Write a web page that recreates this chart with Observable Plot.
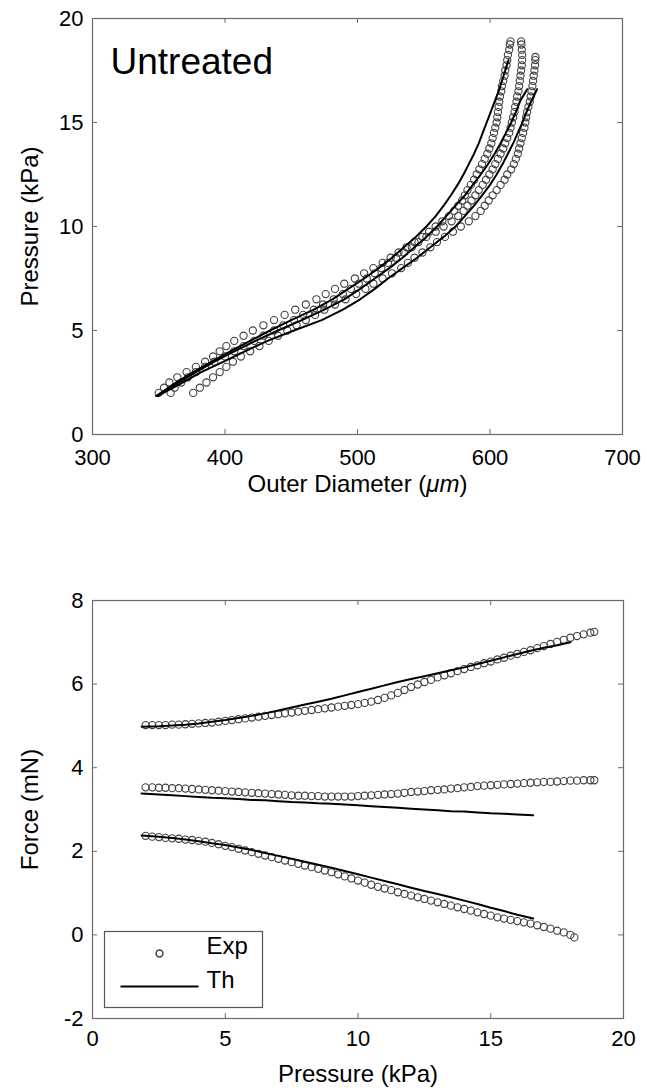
<!DOCTYPE html>
<html><head><meta charset="utf-8">
<script src="https://cdn.jsdelivr.net/npm/d3@7"></script>
<script src="https://cdn.jsdelivr.net/npm/@observablehq/plot@0.6"></script>
<style>
html,body{margin:0;padding:0;background:#fff;}
#chart{width:647px;height:1090px;}
svg{display:block;}
</style></head><body><div id="chart"></div>
<script>
// ---------- Experimental data (pressure kPa, outer diameter um, force mN) ----------
const pressureA = [2,2.25,2.5,2.75,3,3.25,3.5,3.75,4,4.25,4.5,4.75,5,5.25,5.5,5.75,6,6.25,6.5,6.75,7,7.25,7.5,7.75,8,8.25,8.5,8.75,9,9.25,9.5,9.75,10,10.25,10.5,10.75,11,11.25,11.5,11.75,12,12.25,12.5,12.75,13,13.25,13.5,13.75,14,14.25,14.5,14.75,15,15.25,15.5,15.75,16,16.25,16.5,16.75,17,17.25,17.5,17.75,18,18.25,18.5,18.75,18.9];
const diameterA = [350,354,358,364,371,378,385,391,396,401,407,414,421,429,437,445,453,461,469,476,483,490,498,505,512,519,525,531,537,543,549,554,559,564,569,573,576,579,581,583,585.5,588,590,592,594,596,598,599.5,601,602,603,604,605,605.5,606,606.5,607,607.5,608.5,609,610,611,611.5,612.5,613,613.5,614.5,615,615.5];
const forceA = [5.02,5.02,5.02,5.02,5.03,5.03,5.04,5.05,5.06,5.07,5.08,5.10,5.12,5.14,5.16,5.18,5.20,5.22,5.24,5.26,5.28,5.30,5.32,5.34,5.36,5.38,5.40,5.42,5.44,5.46,5.48,5.50,5.52,5.55,5.58,5.62,5.67,5.73,5.79,5.86,5.93,5.99,6.05,6.10,6.16,6.21,6.26,6.31,6.36,6.41,6.45,6.50,6.54,6.59,6.63,6.68,6.72,6.77,6.81,6.86,6.91,6.96,7.01,7.06,7.11,7.15,7.19,7.23,7.25];

const pressureB = [2,2.25,2.5,2.75,3,3.25,3.5,3.75,4,4.25,4.5,4.75,5,5.25,5.5,5.75,6,6.25,6.5,6.75,7,7.25,7.5,7.75,8,8.25,8.5,8.75,9,9.25,9.5,9.75,10,10.25,10.5,10.75,11,11.25,11.5,11.75,12,12.25,12.5,12.75,13,13.25,13.5,13.75,14,14.25,14.5,14.75,15,15.25,15.5,15.75,16,16.25,16.5,16.75,17,17.25,17.5,17.75,18,18.25,18.5,18.75,18.9];
const diameterB = [359,362,367,372,378,385,392,400,407,414,422,429,437,444,452,459,467,474,482,489,495,501,507,513,518,523,529,535,541,546,552,559,565,571,576,580,583,586,589,591.5,594.5,597,599.5,602,604,606,608,610,611.5,613,614.5,615.5,616.5,617.5,618.5,619,620,620.5,621.5,622,622.5,623,623.5,624,624.3,624.3,624,623.7,623.5];
const forceB = [3.53,3.53,3.52,3.52,3.51,3.51,3.50,3.49,3.48,3.47,3.46,3.45,3.44,3.43,3.42,3.41,3.40,3.39,3.38,3.37,3.36,3.35,3.34,3.33,3.33,3.32,3.32,3.31,3.31,3.31,3.31,3.31,3.32,3.33,3.34,3.35,3.36,3.37,3.38,3.40,3.42,3.43,3.44,3.46,3.47,3.48,3.50,3.51,3.53,3.54,3.56,3.57,3.58,3.59,3.60,3.61,3.62,3.63,3.64,3.65,3.66,3.66,3.67,3.68,3.69,3.69,3.70,3.70,3.70];

const pressureC = [2,2.25,2.5,2.75,3,3.25,3.5,3.75,4,4.25,4.5,4.75,5,5.25,5.5,5.75,6,6.25,6.5,6.75,7,7.25,7.5,7.75,8,8.25,8.5,8.75,9,9.25,9.5,9.75,10,10.25,10.5,10.75,11,11.25,11.5,11.75,12,12.25,12.5,12.75,13,13.25,13.5,13.75,14,14.25,14.5,14.75,15,15.25,15.5,15.75,16,16.25,16.5,16.75,17,17.25,17.5,17.75,18,18.15];
const diameterC = [376,381,386,391,396,401,406,412,419,426,433,440,447,454,461,468,475,483,491,499,506,512,519,526,533,538,543,549,555,560,566,572,578,584,589,593,596,599,602,605,608,611,613,616,618,619.5,621,622,623,624,625,626,626.7,627.3,628,629,630,630.7,631.3,632,632.5,633,633.5,634,634.2,634.3];
const forceC = [2.37,2.35,2.34,2.32,2.31,2.30,2.28,2.27,2.25,2.23,2.20,2.17,2.13,2.10,2.06,2.02,1.98,1.94,1.90,1.86,1.82,1.78,1.74,1.70,1.66,1.62,1.58,1.54,1.50,1.45,1.40,1.35,1.30,1.25,1.20,1.15,1.11,1.07,1.02,0.98,0.94,0.90,0.86,0.82,0.78,0.74,0.70,0.66,0.62,0.58,0.54,0.50,0.46,0.42,0.39,0.36,0.33,0.30,0.27,0.23,0.19,0.15,0.10,0.06,0.00,-0.06];

// ---------- Theoretical curves ----------
const thPressure1 = [1.85,2.5,3,3.5,4,4.5,5,5.5,6,6.5,7,7.5,8,8.5,9,9.5,10,10.5,11,11.5,12,12.5,13,13.5,14,14.5,15,15.5,16,16.5,17,17.5,18];
const thDiameter1 = [348,363,376,390,404,419,434,450,467,481,493,505,516,526,535,544,552,559,565,570.5,575.5,580,584,588,591.5,594.5,597.5,600.5,603.5,606.5,609,611.5,614];
const thForce1 = [4.98,4.99,5.01,5.03,5.06,5.10,5.14,5.19,5.24,5.30,5.37,5.44,5.51,5.58,5.65,5.73,5.81,5.89,5.97,6.05,6.12,6.19,6.26,6.33,6.40,6.48,6.56,6.64,6.72,6.80,6.87,6.93,7.0];

const thPressure2 = [1.85,2.5,3,3.5,4,4.5,5,5.5,6,6.5,7,7.5,8,8.5,9,9.5,10,10.5,11,11.5,12,12.5,13,13.5,14,14.5,15,15.5,16,16.6];
const thDiameter2 = [349,365,378,392,407,423,440,458,475,490,502,513,524,534,543,552,560,567,574,581,587,593,598.5,603.5,608,612,616,619.5,622.5,628];
const thForce2 = [3.38,3.36,3.34,3.32,3.30,3.28,3.27,3.25,3.23,3.22,3.20,3.18,3.17,3.15,3.14,3.12,3.10,3.08,3.06,3.04,3.02,3.00,2.98,2.96,2.95,2.93,2.91,2.90,2.88,2.86];

const thPressure3 = [1.85,2.5,3,3.5,4,4.5,5,5.5,6,6.5,7,7.5,8,8.5,9,9.5,10,10.5,11,11.5,12,12.5,13,13.5,14,14.5,15,15.5,16,16.6];
const thDiameter3 = [349,368,382,399,415,432,452,473,489,502,513,523,534,545,555,565,574,581,588,594,600,605,609.5,613.5,617.5,621,624.5,627.5,631,635.5];
const thForce3 = [2.38,2.35,2.32,2.28,2.24,2.19,2.15,2.09,2.03,1.96,1.89,1.82,1.75,1.68,1.61,1.53,1.45,1.37,1.29,1.21,1.13,1.05,0.98,0.90,0.82,0.74,0.65,0.57,0.48,0.39];

// ---------- Tick values & labels ----------
const diameterTicks = [300,400,500,600,700];
const pressureTicksTop = [0,5,10,15,20];
const pressureTicksBottom = [0,5,10,15,20];
const forceTicks = [-2,0,2,4,6,8];
const topLabelX = "Outer Diameter (μm)";
const topLabelY = "Pressure (kPa)";
const bottomLabelX = "Pressure (kPa)";
const bottomLabelY = "Force (mN)";
const panelTitle = "Untreated";
const legendLabels = ["Exp", "Th"];

// ---------- Build tables ----------
const table = (P, D, F) => P.map((p, i) => ({p, d: D[i], f: F[i]}));
const exps = [table(pressureA, diameterA, forceA), table(pressureB, diameterB, forceB), table(pressureC, diameterC, forceC)];
const ths = [table(thPressure1, thDiameter1, thForce1), table(thPressure2, thDiameter2, thForce2), table(thPressure3, thDiameter3, thForce3)];

const FONT = "'Liberation Sans', Arial, Helvetica, sans-serif";
const FRAME = "#6a6a6a";
const DOT = "#404040";
const tickFmt = d => String(d);
const TICKFS = 22, TITLEFS = 24;

function boxTicks(xTicks, yTicks, fw, fh, len) {
  return [
    Plot.tickX(xTicks, {x: d => d, insetTop: fh - len, stroke: FRAME}),
    Plot.tickX(xTicks, {x: d => d, insetBottom: fh - len, stroke: FRAME}),
    Plot.tickY(yTicks, {y: d => d, insetRight: fw - len, stroke: FRAME}),
    Plot.tickY(yTicks, {y: d => d, insetLeft: fw - len, stroke: FRAME})
  ];
}

// ---------- Top panel ----------
const topW = 647, topH = 500;
const topM = {l: 92, r: 25, t: 18, b: 66};
const topPlot = Plot.plot({
  width: topW, height: topH,
  marginLeft: topM.l, marginRight: topM.r, marginTop: topM.t, marginBottom: topM.b,
  style: {fontFamily: FONT, fontSize: "22px", background: "white", color: "black"},
  x: {domain: [300, 700]},
  y: {domain: [0, 20]},
  marks: [
    ...exps.map(e => Plot.dot(e, {x: "d", y: "p", r: 3.6, stroke: DOT, strokeWidth: 1.1, fill: "none"})),
    ...ths.map(t => Plot.line(t, {x: "d", y: "p", stroke: "black", strokeWidth: 2})),
    Plot.frame({stroke: FRAME, strokeWidth: 1.2}),
    ...boxTicks(diameterTicks, pressureTicksTop, topW - topM.l - topM.r, topH - topM.t - topM.b, 5),
    Plot.axisX(diameterTicks, {tickSize: 0, tickPadding: 15, label: null, tickFormat: tickFmt, fontSize: TICKFS, fill: "black"}),
    Plot.axisY(pressureTicksTop, {tickSize: 0, tickPadding: 9, label: null, tickFormat: tickFmt, fontSize: TICKFS, fill: "black"}),
    Plot.text([topLabelX], {text: d => d, frameAnchor: "bottom", dy: 57, fontSize: TITLEFS, fill: "black"}),
    Plot.text([topLabelY], {text: d => d, frameAnchor: "left", dx: -62, rotate: -90, textAnchor: "middle", fontSize: TITLEFS, fill: "black"}),
    Plot.text([panelTitle], {text: d => d, frameAnchor: "top-left", dx: 18, dy: 29, textAnchor: "start", fontSize: 37, fill: "black"})
  ]
});

// ---------- Bottom panel ----------
const botW = 647, botH = 590;
const botM = {l: 92, r: 24, t: 100, b: 72};
const fw = botW - botM.l - botM.r, fh = botH - botM.t - botM.b;
const botPlot = Plot.plot({
  width: botW, height: botH,
  marginLeft: botM.l, marginRight: botM.r, marginTop: botM.t, marginBottom: botM.b,
  style: {fontFamily: FONT, fontSize: "22px", background: "white", color: "black"},
  x: {domain: [0, 20]},
  y: {domain: [-2, 8]},
  marks: [
    ...exps.map(e => Plot.dot(e, {x: "p", y: "f", r: 3.6, stroke: DOT, strokeWidth: 1.1, fill: "none"})),
    ...ths.map(t => Plot.line(t, {x: "p", y: "f", stroke: "black", strokeWidth: 2})),
    Plot.frame({stroke: FRAME, strokeWidth: 1.2}),
    ...boxTicks(pressureTicksBottom, forceTicks, fw, fh, 5),
    Plot.axisX(pressureTicksBottom, {tickSize: 0, tickPadding: 12, label: null, tickFormat: tickFmt, fontSize: TICKFS, fill: "black"}),
    Plot.axisY(forceTicks, {tickSize: 0, tickPadding: 9, label: null, tickFormat: tickFmt, fontSize: TICKFS, fill: "black"}),
    Plot.text([bottomLabelX], {text: d => d, frameAnchor: "bottom", dy: 63, fontSize: TITLEFS, fill: "black"}),
    Plot.text([bottomLabelY], {text: d => d, frameAnchor: "left", dx: -62, rotate: -90, textAnchor: "middle", fontSize: TITLEFS, fill: "black"}),
    // legend
    Plot.frame({insetLeft: 12, insetRight: 361, insetTop: 331, insetBottom: 11, stroke: "#555", strokeWidth: 1.2, fill: "white"}),
    Plot.dot([legendLabels[0]], {frameAnchor: "bottom-left", dx: 67, dy: -65, r: 3.4, stroke: DOT, fill: "none"}),
    Plot.frame({insetLeft: 28, insetRight: 425, insetTop: 385, insetBottom: 31, fill: "black", stroke: "none"}),
    Plot.text([legendLabels[0]], {text: d => d, frameAnchor: "bottom-left", dx: 114, dy: -65, textAnchor: "start", fontSize: 24, fill: "black"}),
    Plot.text([legendLabels[1]], {text: d => d, frameAnchor: "bottom-left", dx: 114, dy: -31, textAnchor: "start", fontSize: 24, fill: "black"})
  ]
});

const root = document.getElementById("chart");
root.appendChild(topPlot);
root.appendChild(botPlot);

// italic "μm" in the x-axis title
d3.select(topPlot).selectAll("text").filter(function() { return this.textContent === topLabelX; })
  .each(function() {
    const t = d3.select(this);
    t.text(null);
    t.append("tspan").text("Outer Diameter (");
    t.append("tspan").attr("font-style", "italic").text("μm");
    t.append("tspan").text(")");
  });
</script>
</body></html>
